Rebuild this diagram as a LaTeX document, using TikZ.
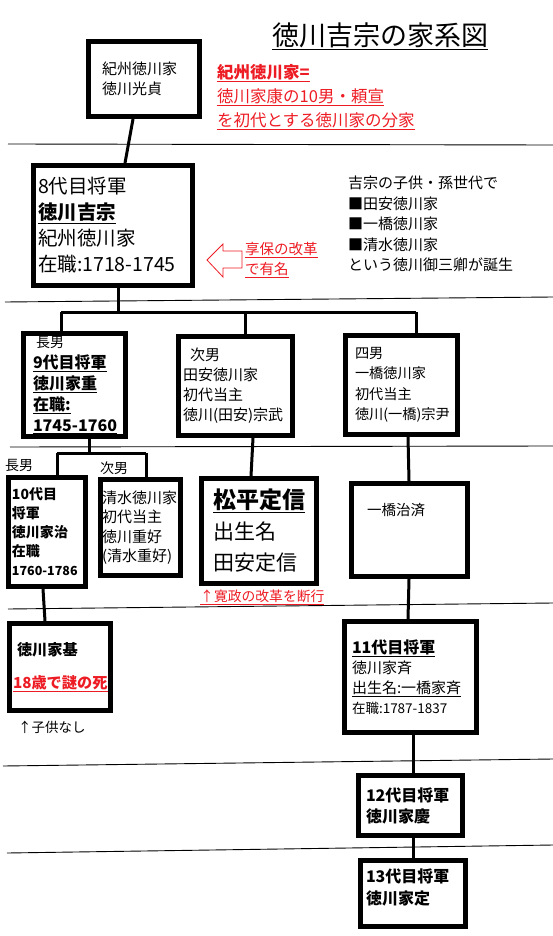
\documentclass[tikz,border=0pt]{standalone}
\usepackage{fontspec}
\setmainfont{Noto Sans CJK JP}
\usetikzlibrary{positioning}
\definecolor{paintred}{RGB}{237,28,36}
\tikzstyle{every node}+=[inner sep=0pt]
\tikzstyle{box}=[draw, line width=5pt, align=left]
\tikzstyle{link}=[line width=3pt]
\tikzstyle{sep}=[line width=0.9pt]
\tikzstyle{note}=[align=left, anchor=north west]
\newcommand{\fs}[2]{\fontsize{#1}{#2}\selectfont}

\begin{document}
\begin{tikzpicture}[x=1pt,y=-1pt]
\useasboundingbox (0,0) rectangle (553,936);

% separators
\draw[sep] (8,144) -- (553,145);
\draw[sep] (5,302) -- (553,297);
\draw[sep] (10,447) -- (553,446);
\draw[sep] (8,609) -- (553,603);
\draw[sep] (3,766) -- (553,759);
\draw[sep] (7,853) -- (553,845);

\node[anchor=west, font=\fs{27}{30}] (title) at (272,36) {\underline{徳川吉宗の家系図}};

\node[box, minimum width=111pt, minimum height=75pt, text width=84pt, inner xsep=13.5pt, font=\fs{15}{20}] (kishu) at (144,79) {紀州徳川家\\徳川光貞};
\node[note, text=paintred, font=\fs{16.5}{24}] (kishunote) at (217,64) {\underline{\textbf{紀州徳川家=}}\\\underline{徳川家康の10男・頼宣}\\\underline{を初代とする徳川家の分家}};

\node[box, minimum width=159pt, minimum height=120pt, text width=150pt, inner xsep=4.5pt, font=\fs{19.5}{26}] (yoshimune) at (113,225.5) {8代目将軍\\\underline{\textbf{徳川吉宗}}\\紀州徳川家\\在職:1718-1745};
\draw[paintred, line width=0.8pt] (207,260) -- (223,244) -- (223,251) -- (242,251) -- (242,268) -- (223,268) -- (223,277) -- cycle;
\node[note, text=paintred, font=\fs{14.5}{20}] (kyoho) at (245,242) {\underline{享保の改革}\\\underline{で有名}};
\node[note, font=\fs{15}{20.5}] (gosankyo) at (348,176) {吉宗の子供・孫世代で\\■田安徳川家\\■一橋徳川家\\■清水徳川家\\という徳川御三卿が誕生};

\node[box, minimum width=102pt, minimum height=103pt, text width=83pt, inner xsep=9.5pt, font=\fs{16}{21}] (ieshige) at (74.5,385) {\hspace{3pt}{\fs{14}{21}長男}\\\underline{\textbf{9代目将軍}}\\\underline{\textbf{徳川家重}}\\\underline{\textbf{在職:}}\\\underline{\textbf{1745-1760}}};
\node[box, minimum width=114pt, minimum height=99pt, text width=105pt, inner xsep=4.5pt, font=\fs{15}{20}] (munetake) at (235.5,386) {\hspace{7pt}次男\\田安徳川家\\初代当主\\徳川(田安)宗武};
\node[box, minimum width=112pt, minimum height=99pt, text width=93pt, inner xsep=9.5pt, font=\fs{14.2}{20.5}] (munetada) at (401.5,385) {四男\\一橋徳川家\\初代当主\\徳川(一橋)宗尹};

\node[anchor=west, font=\fs{14}{16}] (chonan) at (5,465) {長男};
\node[anchor=west, font=\fs{14}{16}] (jinan) at (100,468) {次男};

\node[box, minimum width=77pt, minimum height=109pt, text width=70pt, inner xsep=3.5pt, font=\fs{14}{19}\bfseries] (ieharu) at (47,532) {10代目\\将軍\\徳川家治\\在職\\{\fs{12.5}{19}\mbox{1760-1786}}};
\node[box, minimum width=80pt, minimum height=96pt, text width=77pt, inner xsep=1.5pt, font=\fs{15}{19.5}] (shigeyoshi) at (140.5,527.5) {清水徳川家\\初代当主\\徳川重好\\(清水重好)};
\node[box, minimum width=115pt, minimum height=105pt, text width=92pt, inner xsep=11.5pt, font=\fs{21}{31}] (sadanobu) at (259,531) {\underline{\textbf{\fs{23}{31}松平定信}}\\出生名\\田安定信};
\node[anchor=west, text=paintred, font=\fs{13.8}{16}] (kansei) at (200,597) {\underline{↑寛政の改革を断行}};
\node[box, minimum width=116pt, minimum height=93pt, text width=85pt, inner xsep=15.5pt, font=\fs{14.5}{20}] (harusada) at (409.5,530) {一橋治済\\[22pt]\mbox{}};

\node[box, minimum width=101pt, minimum height=87pt, text width=94pt, inner xsep=3.5pt, font=\fs{15.2}{33}] (iemoto) at (60,667) {\hspace{4pt}\textbf{徳川家基}\\\textcolor{paintred}{\underline{\textbf{18歳で謎の死}}}};
\node[anchor=west, font=\fs{13.5}{16}] (nashi) at (18,727) {↑子供なし};
\node[box, minimum width=132pt, minimum height=111pt, text width=117pt, inner xsep=7.5pt, font=\fs{15}{20}] (ienari) at (410.5,677) {\underline{\textbf{\fs{16}{20}11代目将軍}}\\徳川家斉\\\underline{出生名:一橋家斉}\\{\fs{13.5}{20}在職:1787-1837}};

\node[box, minimum width=104pt, minimum height=60pt, text width=89pt, inner xsep=7.5pt, font=\fs{16}{21}\bfseries] (ieyoshi) at (410.5,805.5) {12代目将軍\\徳川家慶};
\node[box, minimum width=105pt, minimum height=66pt, text width=94pt, inner xsep=5.5pt, font=\fs{16}{22}\bfseries] (iesada) at (413,893.5) {13代目将軍\\徳川家定\\[-9pt]\mbox{}};

\coordinate (j1l) at (61,312);
\coordinate (j1r) at (416,312);
\coordinate (j2l) at (57,453);
\coordinate (j2r) at (146,453);

\draw[link] ([xshift=-11pt]kishu.south) -- ([xshift=12pt]yoshimune.north);
\draw[link] ([xshift=5pt]yoshimune.south) -- ([xshift=5pt]yoshimune.south |- j1l);
\draw[link] (j1l) -- (j1r);
\draw[link] (j1l) -- (j1l |- ieshige.north);
\draw[link] ([xshift=9.5pt]munetake.north) -- ([xshift=9.5pt]munetake.north |- j1l);
\draw[link] (j1r) -- (j1r |- munetada.north);
\draw[link] ([xshift=14.5pt]ieshige.south) -- ([xshift=14.5pt]ieshige.south |- j2l);
\draw[link] (j2l) -- (j2r);
\draw[link] (j2l) -- (j2l |- ieharu.north);
\draw[link] (j2r) -- (j2r |- shigeyoshi.north);
\draw[link] ([xshift=17.5pt]munetake.south) -- ([xshift=-8pt]sadanobu.north);
\draw[link] ([xshift=6.5pt]munetada.south) -- ([xshift=-0.5pt]harusada.north);
\draw[link] ([xshift=-0.5pt]harusada.south) -- ([xshift=-2.5pt]ienari.north);
\draw[link] ([xshift=-4pt]ieharu.south) -- ([xshift=-15pt]iemoto.north);
\draw[link] ([xshift=2.5pt]ienari.south) -- ([xshift=2.5pt]ieyoshi.north);
\draw[link] ([xshift=2.5pt]ieyoshi.south) -- (iesada.north);
\end{tikzpicture}
\end{document}
